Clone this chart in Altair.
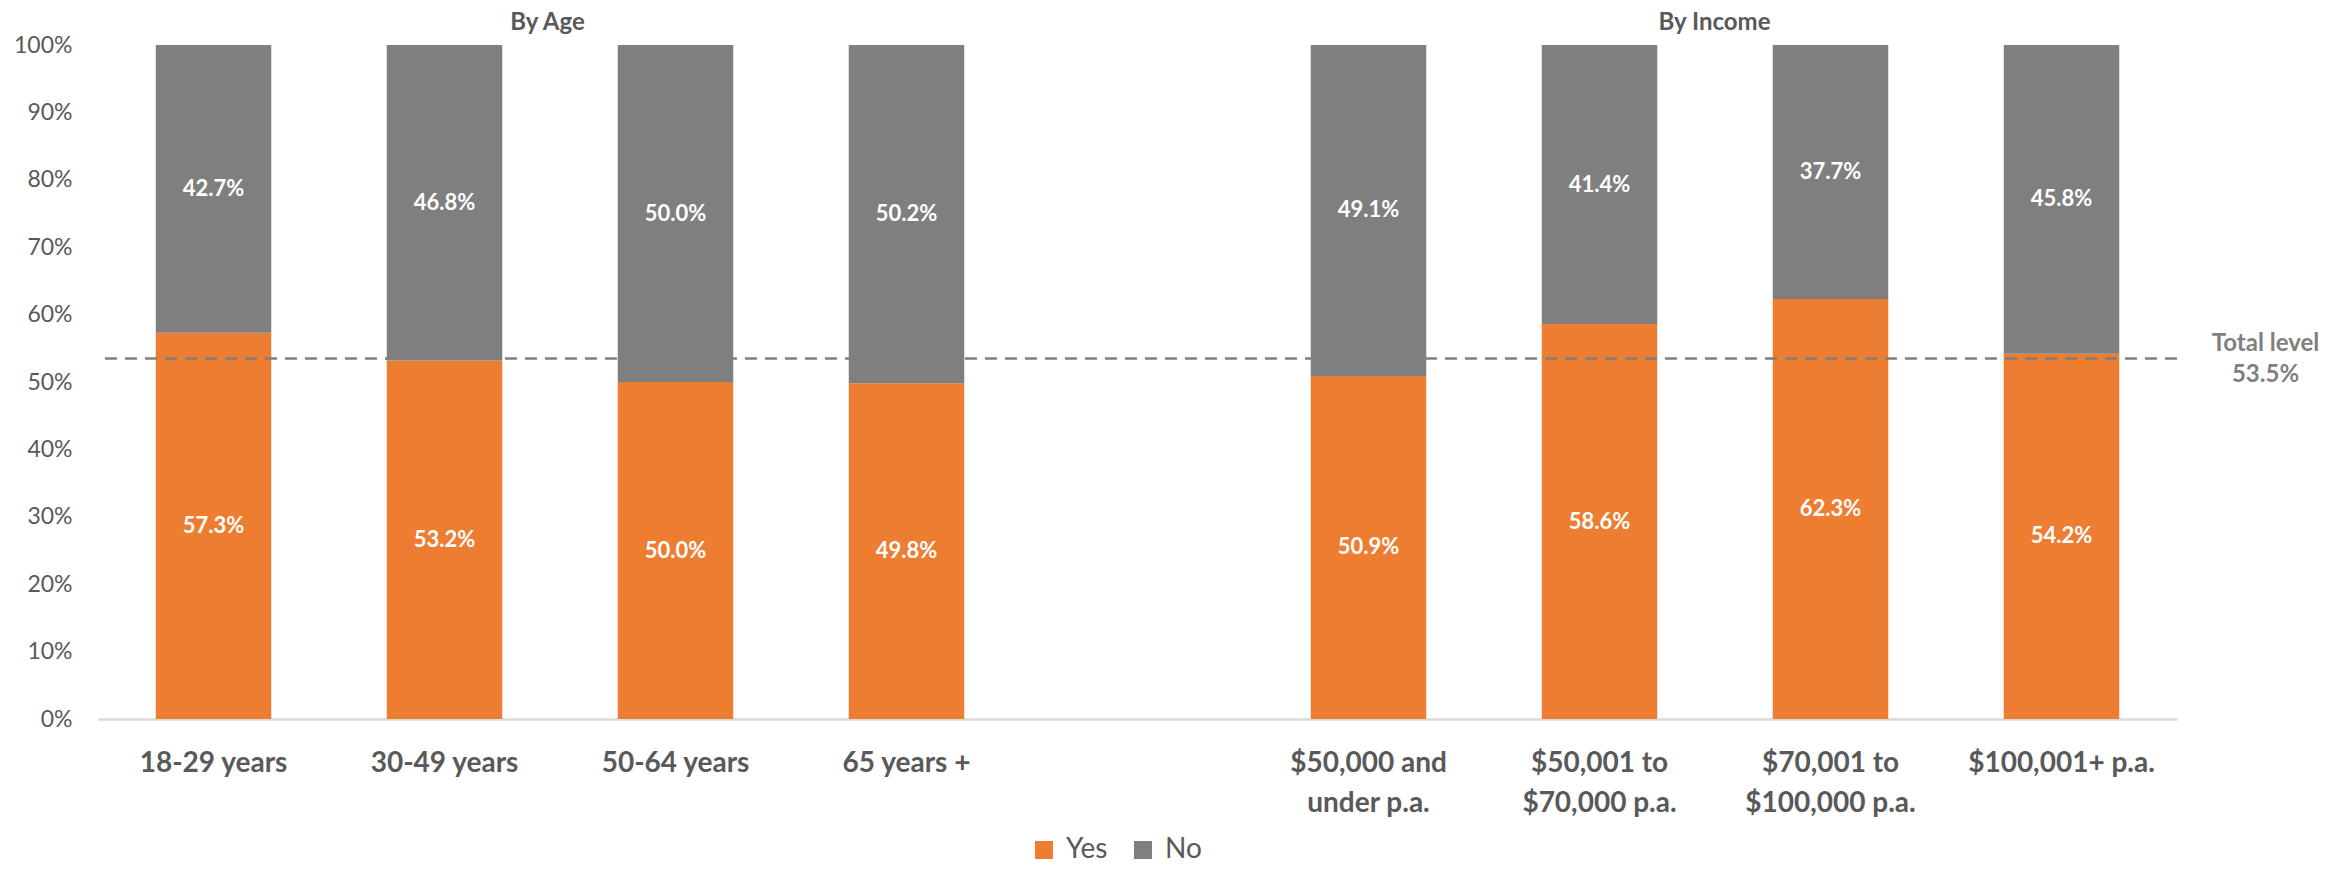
import altair as alt
import pandas as pd

# ---- data ----
categories = [
    "18-29 years", "30-49 years", "50-64 years", "65 years +",
    " ",
    "$50,000 and|under p.a.", "$50,001 to|$70,000 p.a.",
    "$70,001 to|$100,000 p.a.", "$100,001+ p.a.",
]
bar_categories = [c for c in categories if c.strip()]
yes_values = [57.3, 53.2, 50.0, 49.8, 50.9, 58.6, 62.3, 54.2]
no_values = [42.7, 46.8, 50.0, 50.2, 49.1, 41.4, 37.7, 45.8]
series_names = ["Yes", "No"]
series_colors = ["#ED7D31", "#7F7F7F"]
y_ticks = [0, 0.1, 0.2, 0.3, 0.4, 0.5, 0.6, 0.7, 0.8, 0.9, 1.0]
total_level = 0.535
group_titles = ["By Age", "By Income"]

rows = []
for c, y, n in zip(bar_categories, yes_values, no_values):
    rows.append({"category": c, "series": "Yes", "order": 0, "value": y / 100})
    rows.append({"category": c, "series": "No", "order": 1, "value": n / 100})
df = pd.DataFrame(rows)

FONT = "Lato"
TXT = "#595959"

x_enc = alt.X(
    "category:N",
    scale=alt.Scale(domain=categories, paddingInner=0.5, paddingOuter=0.25),
    axis=alt.Axis(
        title=None, labelAngle=0, labelFont=FONT, labelFontSize=28,
        labelFontWeight="bold", labelColor=TXT, domainColor="#D9D9D9",
        domainWidth=2.5, ticks=False, tickSize=0, labelPadding=30,
        labelLineHeight=40, labelLimit=0,
        labelExpr="split(datum.label, '|')",
    ),
)
y_scale = alt.Scale(domain=[0, 1], nice=False)

bars = alt.Chart(df).mark_bar().encode(
    x=x_enc,
    y=alt.Y(
        "value:Q", stack="zero", scale=y_scale,
        axis=alt.Axis(
            title=None, values=y_ticks, format=".0%", labelFont=FONT,
            labelFontSize=23, labelColor=TXT, domain=False, ticks=False,
            tickSize=0, grid=False, labelPadding=26,
        ),
    ),
    color=alt.Color(
        "series:N",
        scale=alt.Scale(domain=series_names, range=series_colors),
        legend=alt.Legend(
            title=None, orient="none", legendX=932, legendY=791,
            direction="horizontal", symbolType="square", symbolSize=324,
            symbolStrokeWidth=0, labelFont=FONT, labelFontSize=28,
            labelColor=TXT, labelOffset=8, columnPadding=21, padding=0,
        ),
    ),
    order=alt.Order("order:Q"),
)

labels = alt.Chart(df).transform_stack(
    stack="value", groupby=["category"], as_=["y0", "y1"],
    sort=[alt.SortField("order")],
).transform_calculate(
    mid="(datum.y0 + datum.y1) / 2"
).mark_text(
    font=FONT, fontSize=22, fontWeight="bold", color="white", baseline="middle"
).encode(
    x=alt.X("category:N"),
    y=alt.Y("mid:Q"),
    text=alt.Text("value:Q", format=".1%"),
)

rule_df = pd.DataFrame({"level": [total_level]})
rule = alt.Chart(rule_df).mark_rule(
    color="#7F7F7F", strokeDash=[12, 8], strokeWidth=2.5
).encode(y=alt.Y("level:Q"))

total_df = pd.DataFrame({
    "category": [categories[-1]],
    "level": [total_level],
    "label": [["Total level", f"{total_level:.1%}"]],
})
total_text = alt.Chart(total_df).mark_text(
    font=FONT, fontSize=24, fontWeight="bold", color="#7F7F7F",
    align="center", baseline="middle", dx=204, dy=-14, lineHeight=31,
).encode(x=alt.X("category:N"), y=alt.Y("level:Q"), text="label:N")

title_age = alt.Chart(pd.DataFrame({
    "category": [categories[1]], "top": [1.0], "t": [group_titles[0]]
})).mark_text(
    font=FONT, fontSize=24, fontWeight="bold", color=TXT,
    align="center", baseline="middle", dx=103, dy=-22,
).encode(x=alt.X("category:N"), y=alt.Y("top:Q"), text="t:N")

title_inc = alt.Chart(pd.DataFrame({
    "category": [categories[6]], "top": [1.0], "t": [group_titles[1]]
})).mark_text(
    font=FONT, fontSize=24, fontWeight="bold", color=TXT,
    align="center", baseline="middle", dx=115, dy=-22,
).encode(x=alt.X("category:N"), y=alt.Y("top:Q"), text="t:N")

chart = alt.layer(
    bars, labels, rule, total_text, title_age, title_inc
).properties(
    width=2079, height=674,
    autosize=alt.AutoSizeParams(type="none"),
    padding={"left": 90, "top": 37, "right": 154, "bottom": 147},
).configure(font=FONT).configure_view(stroke=None, strokeWidth=0)

chart.save("out.html", embed_options={"renderer": "svg", "actions": False})
